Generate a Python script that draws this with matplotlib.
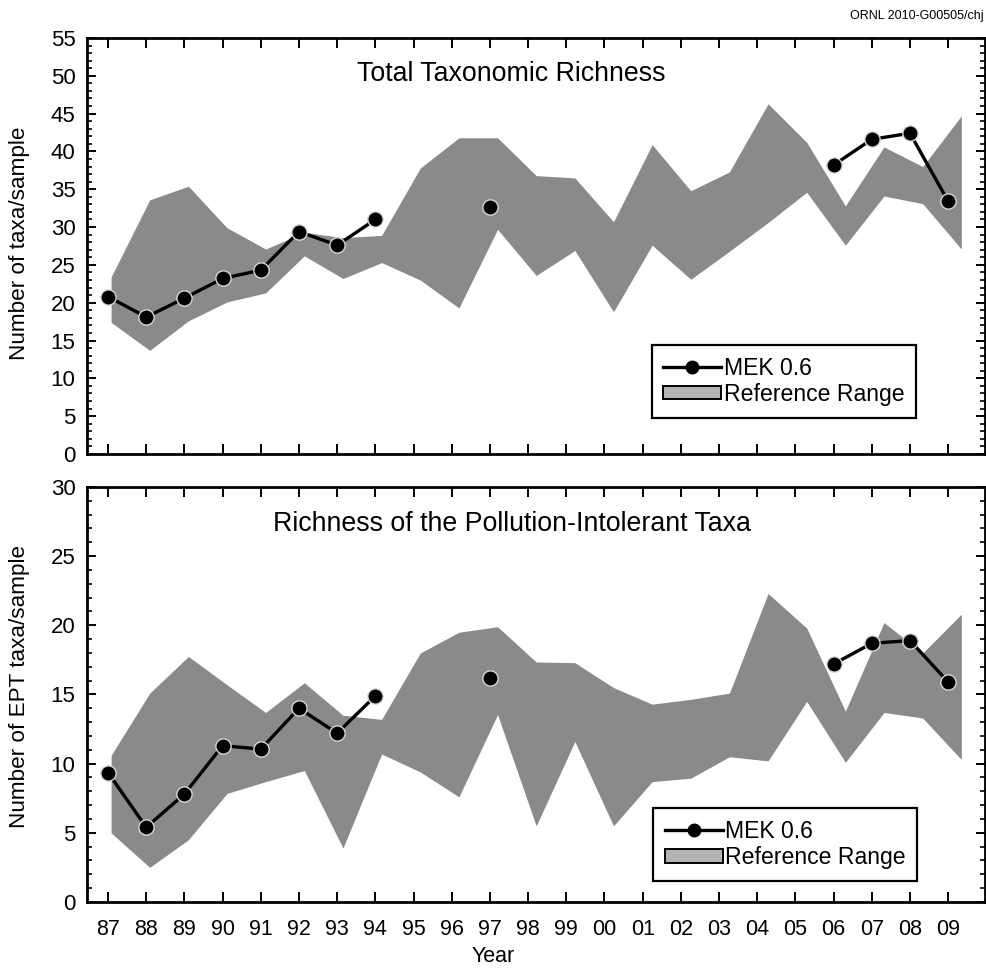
import numpy as np
import matplotlib
matplotlib.use('Agg')
import matplotlib.pyplot as plt
from matplotlib.lines import Line2D
from matplotlib.patches import Patch
from matplotlib.ticker import MultipleLocator

plt.rcParams['font.family'] = ['Liberation Sans', 'DejaVu Sans']

nan = np.nan
years = ['87', '88', '89', '90', '91', '92', '93', '94', '95', '96', '97', '98',
         '99', '00', '01', '02', '03', '04', '05', '06', '07', '08', '09']

# MEK 0.6 - total richness (gaps = no sample)
mek_total = [20.8, 18.1, 20.6, 23.2, 24.3, 29.4, 27.6, 31.0, nan, nan, 32.7, nan,
             nan, nan, nan, nan, nan, nan, nan, 38.2, 41.6, 42.4, 33.4]
ref_total_low = [17.4, 13.7, 17.6, 20.1, 21.3, 26.2, 23.2, 25.3, 23.0, 19.3, 29.7, 23.6,
                 26.9, 18.8, 27.6, 23.1, 26.8, 30.6, 34.6, 27.6, 34.1, 33.1, 27.1]
ref_total_high = [23.4, 33.6, 35.4, 29.9, 27.1, 29.3, 28.6, 28.9, 37.8, 41.8, 41.8, 36.8,
                  36.5, 30.7, 40.9, 34.8, 37.3, 46.3, 41.2, 32.8, 40.6, 38.0, 44.7]

# EPT richness
mek_ept = [9.35, 5.4, 7.8, 11.3, 11.05, 14.0, 12.2, 14.9, nan, nan, 16.2, nan,
           nan, nan, nan, nan, nan, nan, nan, 17.2, 18.7, 18.9, 15.9]
ref_ept_low = [5.0, 2.5, 4.5, 7.85, 8.7, 9.5, 3.9, 10.7, 9.4, 7.6, 13.55, 5.5,
               11.6, 5.5, 8.7, 8.95, 10.5, 10.2, 14.5, 10.1, 13.7, 13.3, 10.3]
ref_ept_high = [10.6, 15.1, 17.75, 15.7, 13.7, 15.85, 13.5, 13.2, 18.0, 19.5, 19.9, 17.35,
                17.3, 15.5, 14.3, 14.65, 15.1, 22.3, 19.8, 13.8, 20.2, 18.0, 20.8]

# the shaded band was drawn on a slightly wider x scale than the ticks
FILL_SCALE = 1.012
FILL_SHIFT = 0.08

fig = plt.figure(figsize=(9.87, 9.68), dpi=100)
ax1 = fig.add_axes([0.0878, 0.531, 0.910, 0.4298])
ax2 = fig.add_axes([0.0878, 0.0682, 0.910, 0.4287])


def draw_panel(ax, mek, low, high, ymax, title, title_y, leg_xy):
    x = np.arange(len(years))
    ax.fill_between(x * FILL_SCALE + FILL_SHIFT, low, high, color='#8a8a8a', lw=0)
    ax.plot(x, mek, color='black', lw=2.4, marker='o', ms=11, mfc='black',
            mec='#d8d8d8', mew=1.0, zorder=3)

    ax.set_xlim(-0.56, 22.96)
    ax.set_ylim(0, ymax)
    ax.set_xticks(x)
    ax.yaxis.set_major_locator(MultipleLocator(5))
    ax.yaxis.set_minor_locator(MultipleLocator(1))
    ax.tick_params(axis='both', which='both', direction='in', top=True, right=True,
                   width=1.4, colors='black')
    ax.tick_params(axis='x', which='major', length=7, pad=12, labelsize=15.5)
    ax.tick_params(axis='y', which='major', length=6.5, pad=8, labelsize=16)
    ax.tick_params(axis='y', which='minor', length=3.5, width=1.2)
    for s in ax.spines.values():
        s.set_linewidth(2)

    ax.text(0.473, title_y, title, transform=ax.transAxes, ha='center', va='center',
            fontsize=19.3)

    handles = [Line2D([], [], color='black', lw=2.4, marker='o', ms=9, mfc='black', mec='black'),
               Patch(facecolor='#b4b4b4', edgecolor='black', lw=1.4)]
    leg = ax.legend(handles, ['MEK 0.6', 'Reference Range'], loc='upper left',
                    bbox_to_anchor=leg_xy, frameon=True, fancybox=False,
                    edgecolor='black', framealpha=1, fontsize=16.6, handlelength=2.5,
                    handleheight=0.5, handletextpad=0.12, borderpad=0.5,
                    labelspacing=0.15, borderaxespad=0)
    leg.get_frame().set_linewidth(1.6)


draw_panel(ax1, mek_total, ref_total_low, ref_total_high, 55,
           'Total Taxonomic Richness', 0.914, (0.629, 0.262))
draw_panel(ax2, mek_ept, ref_ept_low, ref_ept_high, 30,
           'Richness of the Pollution-Intolerant Taxa', 0.91, (0.631, 0.226))

ax1.set_xticklabels([])
ax2.set_xticklabels(years)

fig.text(20 / 987, 1 - 243 / 968, 'Number of taxa/sample', rotation=90,
         ha='center', va='center', fontsize=16.2)
fig.text(20 / 987, 1 - 686 / 968, 'Number of EPT taxa/sample', rotation=90,
         ha='center', va='center', fontsize=16.2)
fig.text(493 / 987, 1 - 957 / 968, 'Year', ha='center', va='center', fontsize=15.5)
fig.text(984 / 987, 1 - 16 / 968, 'ORNL 2010-G00505/chj', ha='right', va='center',
         fontsize=9)

fig.savefig('out.png', dpi=100)
